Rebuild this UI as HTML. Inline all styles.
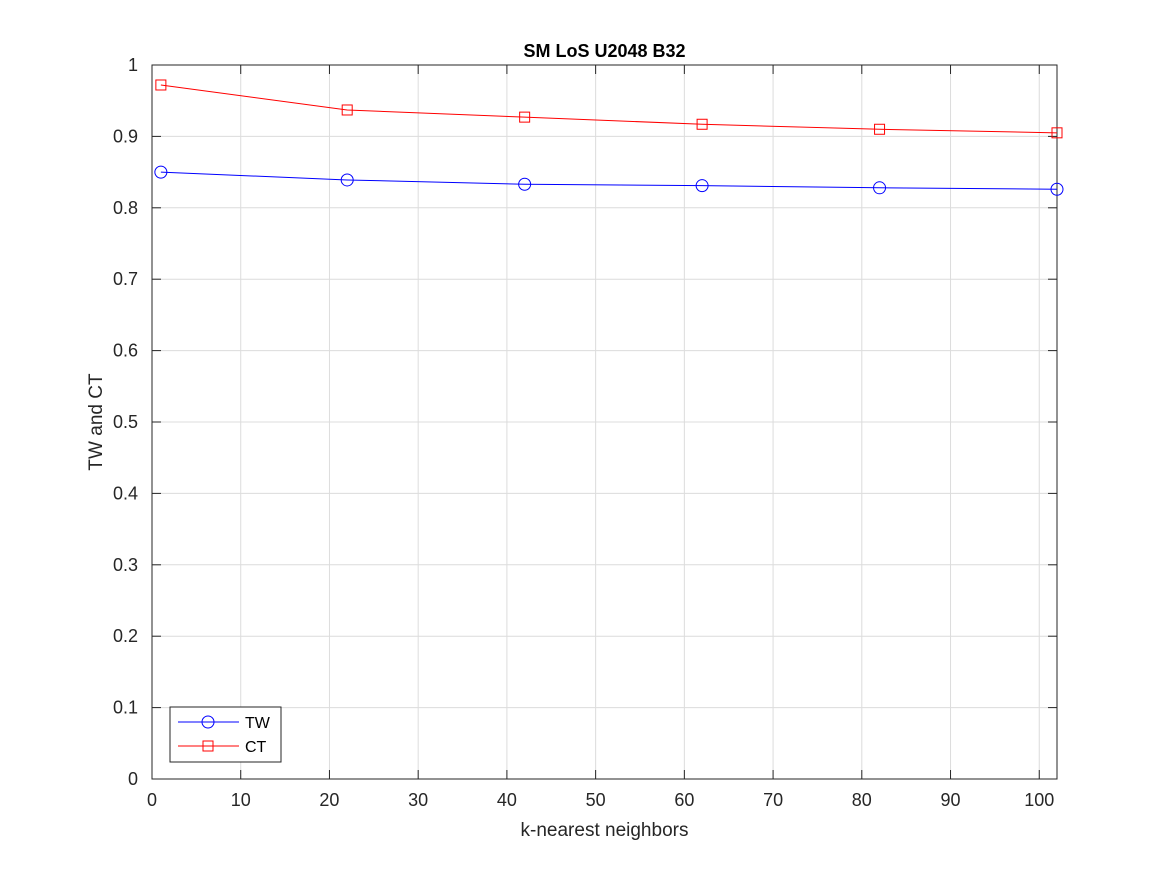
<!DOCTYPE html>
<html><head><meta charset="utf-8"><style>
body{margin:0;background:#fff;}
svg{display:block;font-family:"Liberation Sans",Arial,sans-serif;}
</style></head><body>
<svg id="chart" width="1167" height="875"></svg>
<script>
const xValues=[1,22,42,62,82,102];
const twValues=[0.850,0.839,0.833,0.831,0.828,0.826];
const ctValues=[0.972,0.937,0.927,0.917,0.910,0.905];
const xTicks=[0,10,20,30,40,50,60,70,80,90,100];
const yTicks=[0,0.1,0.2,0.3,0.4,0.5,0.6,0.7,0.8,0.9,1];
const yTickLabels=["0","0.1","0.2","0.3","0.4","0.5","0.6","0.7","0.8","0.9","1"];
const L=152,R=1057,T=65,B=779;
const xs=v=>L+(v-0)/(102-0)*(R-L);
const ys=v=>B-(v-0)/(1-0)*(B-T);
const svg=document.getElementById('chart');
const NS='http://www.w3.org/2000/svg';
function mk(tag,attrs,parent){const e=document.createElementNS(NS,tag);for(const k in attrs)e.setAttribute(k,attrs[k]);(parent||svg).appendChild(e);return e;}
xTicks.forEach(t=>{const l=mk('line',{x1:xs(t),x2:xs(t),y1:T,y2:B,stroke:'#dcdcdc','stroke-width':1});
});
yTicks.forEach(t=>{const l=mk('line',{x1:L,x2:R,y1:ys(t),y2:ys(t),stroke:'#dcdcdc','stroke-width':1});
});
const box=mk('rect',{x:L,y:T,width:R-L,height:B-T,fill:'none',stroke:'#262626','stroke-width':1});

xTicks.forEach(t=>{mk('line',{x1:xs(t),x2:xs(t),y1:B,y2:B-9,stroke:'#262626'});mk('line',{x1:xs(t),x2:xs(t),y1:T,y2:T+9,stroke:'#262626'});
const tx=mk('text',{x:xs(t),y:B+27,'text-anchor':'middle','font-size':18,fill:'#262626'});tx.textContent=t;
});
yTicks.forEach((t,i)=>{mk('line',{x1:L,x2:L+9,y1:ys(t),y2:ys(t),stroke:'#262626'});mk('line',{x1:R,x2:R-9,y1:ys(t),y2:ys(t),stroke:'#262626'});
const tx=mk('text',{x:L-14,y:ys(t)+6,'text-anchor':'end','font-size':18,fill:'#262626'});tx.textContent=yTickLabels[i];
});
function series(vals,color,marker,name){
 const g=mk('g',{});
 mk('polyline',{points:xValues.map((x,i)=>xs(x)+','+ys(vals[i])).join(' '),fill:'none',stroke:color,'stroke-width':1},g);
 xValues.forEach((x,i)=>{let m;
  if(marker==='o')m=mk('circle',{cx:xs(x),cy:ys(vals[i]),r:6,fill:'none',stroke:color},g);
  else m=mk('rect',{x:xs(x)-5,y:ys(vals[i])-5,width:10,height:10,fill:'none',stroke:color},g);
  });
}
series(twValues,'#0000ff','o','tw-series');
series(ctValues,'#ff0000','s','ct-series');
const title=mk('text',{x:(L+R)/2,y:57,'text-anchor':'middle','font-size':18,'font-weight':'bold',fill:'#000'});title.textContent='SM LoS U2048 B32';

const xl=mk('text',{x:(L+R)/2,y:836,'text-anchor':'middle','font-size':19,fill:'#262626'});xl.textContent='k-nearest neighbors';

const yl=mk('text',{x:0,y:0,'text-anchor':'middle','font-size':19,fill:'#262626',transform:'translate(102,422) rotate(-90)'});yl.textContent='TW and CT';

const lg=mk('g',{});
mk('rect',{x:170,y:707,width:111,height:55,fill:'#fff',stroke:'#262626'},lg);
mk('line',{x1:178,x2:239,y1:722,y2:722,stroke:'#0000ff'},lg);mk('circle',{cx:208,cy:722,r:6,fill:'none',stroke:'#0000ff'},lg);
mk('line',{x1:178,x2:239,y1:746,y2:746,stroke:'#ff0000'},lg);mk('rect',{x:203,y:741,width:10,height:10,fill:'none',stroke:'#ff0000'},lg);
const t1=mk('text',{x:245,y:728,'font-size':16,fill:'#000'},lg);t1.textContent='TW';

const t2=mk('text',{x:245,y:752,'font-size':16,fill:'#000'},lg);t2.textContent='CT';

</script>
</body></html>
